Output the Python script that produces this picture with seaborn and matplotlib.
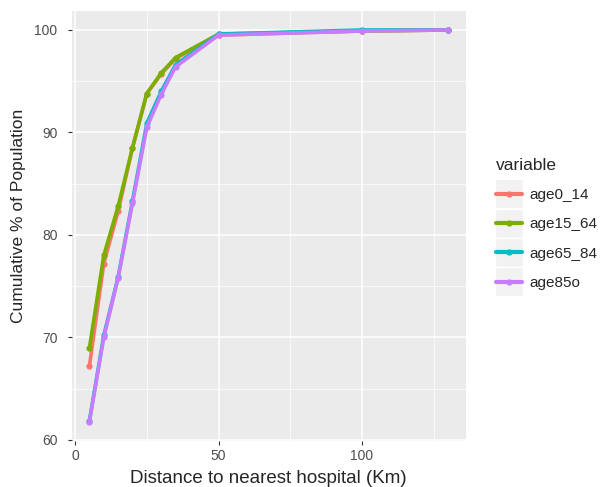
import pandas as pd
import seaborn as sns
import matplotlib.pyplot as plt
from matplotlib.ticker import MultipleLocator
from matplotlib.patches import Rectangle

# Cumulative population share by distance to hospital
distance = [5, 10, 15, 20, 25, 30, 35, 50, 100, 130]
age0_14 = [67.2, 77.2, 82.3, 88.5, 93.8, 95.7, 97.2, 99.5, 99.9, 100.0]
age15_64 = [69.0, 78.0, 82.8, 88.5, 93.8, 95.8, 97.3, 99.6, 99.9, 100.0]
age65_84 = [61.9, 70.2, 75.9, 83.3, 90.9, 94.0, 96.6, 99.6, 100.0, 100.0]
age85o = [61.8, 70.0, 75.8, 83.1, 90.5, 93.7, 96.4, 99.5, 99.9, 100.0]

groups = ['age0_14', 'age15_64', 'age65_84', 'age85o']
palette = ['#F8766D', '#7CAE00', '#00BFC4', '#C77CFF']

df = pd.DataFrame({'distance': distance, 'age0_14': age0_14, 'age15_64': age15_64,
                   'age65_84': age65_84, 'age85o': age85o})
long_df = df.melt(id_vars='distance', var_name='variable', value_name='value')

sns.set_theme(style='darkgrid', rc={'axes.facecolor': '#EBEBEB', 'grid.color': 'white'})
plt.rcParams['font.family'] = ['Liberation Sans', 'DejaVu Sans']

fig = plt.figure(figsize=(6, 4.87), dpi=100)
ax = fig.add_axes([71.5 / 600, 1 - 441 / 487, 394.5 / 600, 430.5 / 487])

sns.lineplot(data=long_df, x='distance', y='value', hue='variable', hue_order=groups,
             palette=palette, linewidth=2.6, marker='o', markersize=4.5,
             markeredgewidth=0, ax=ax)

ax.set_xlim(-1.25, 136.25)
ax.set_ylim(59.9, 101.9)
ax.xaxis.set_major_locator(MultipleLocator(50))
ax.xaxis.set_minor_locator(MultipleLocator(25))
ax.yaxis.set_major_locator(MultipleLocator(10))
ax.yaxis.set_minor_locator(MultipleLocator(5))
ax.grid(which='major', color='white', linewidth=1.1)
ax.grid(which='minor', color='white', linewidth=0.5)
for s in ax.spines.values():
    s.set_visible(False)
ax.tick_params(axis='both', which='major', length=3, width=0.8, color='#333333',
               labelsize=10, labelcolor='#4D4D4D', bottom=True, left=True)
ax.tick_params(axis='y', pad=7)
ax.tick_params(axis='x', pad=3)
ax.tick_params(which='minor', length=0)

ax.set_xlabel('Distance to nearest hospital (Km)', fontsize=13.5, labelpad=5)
ax.set_ylabel('Cumulative % of Population', fontsize=12.5, labelpad=6)
ax.yaxis.label.set_y(0.523)

leg = ax.legend(title='variable', loc='upper left', bbox_to_anchor=(1.06, 0.672),
                frameon=False, fontsize=11, title_fontsize=12.5,
                handlelength=1.7, labelspacing=1.0, borderaxespad=0, handletextpad=0.5)
leg._legend_box.align = 'left'
for h in leg.legend_handles:
    h.set_linewidth(3)

# grey key boxes behind legend handles, ggplot style
fig.canvas.draw()
inv = fig.transFigure.inverted()
for h in leg.legend_handles:
    bb = h.get_window_extent(fig.canvas.get_renderer())
    cx = (bb.x0 + bb.x1) / 2
    cy = (bb.y0 + bb.y1) / 2
    (x0, y0) = inv.transform((cx - 14, cy - 14.5))
    (x1, y1) = inv.transform((cx + 14, cy + 14.5))
    fig.patches.append(Rectangle((x0, y0), x1 - x0, y1 - y0, transform=fig.transFigure,
                                 facecolor='#F2F2F2', edgecolor='white', linewidth=1,
                                 zorder=-1))

fig.savefig('out.png', dpi=100)
